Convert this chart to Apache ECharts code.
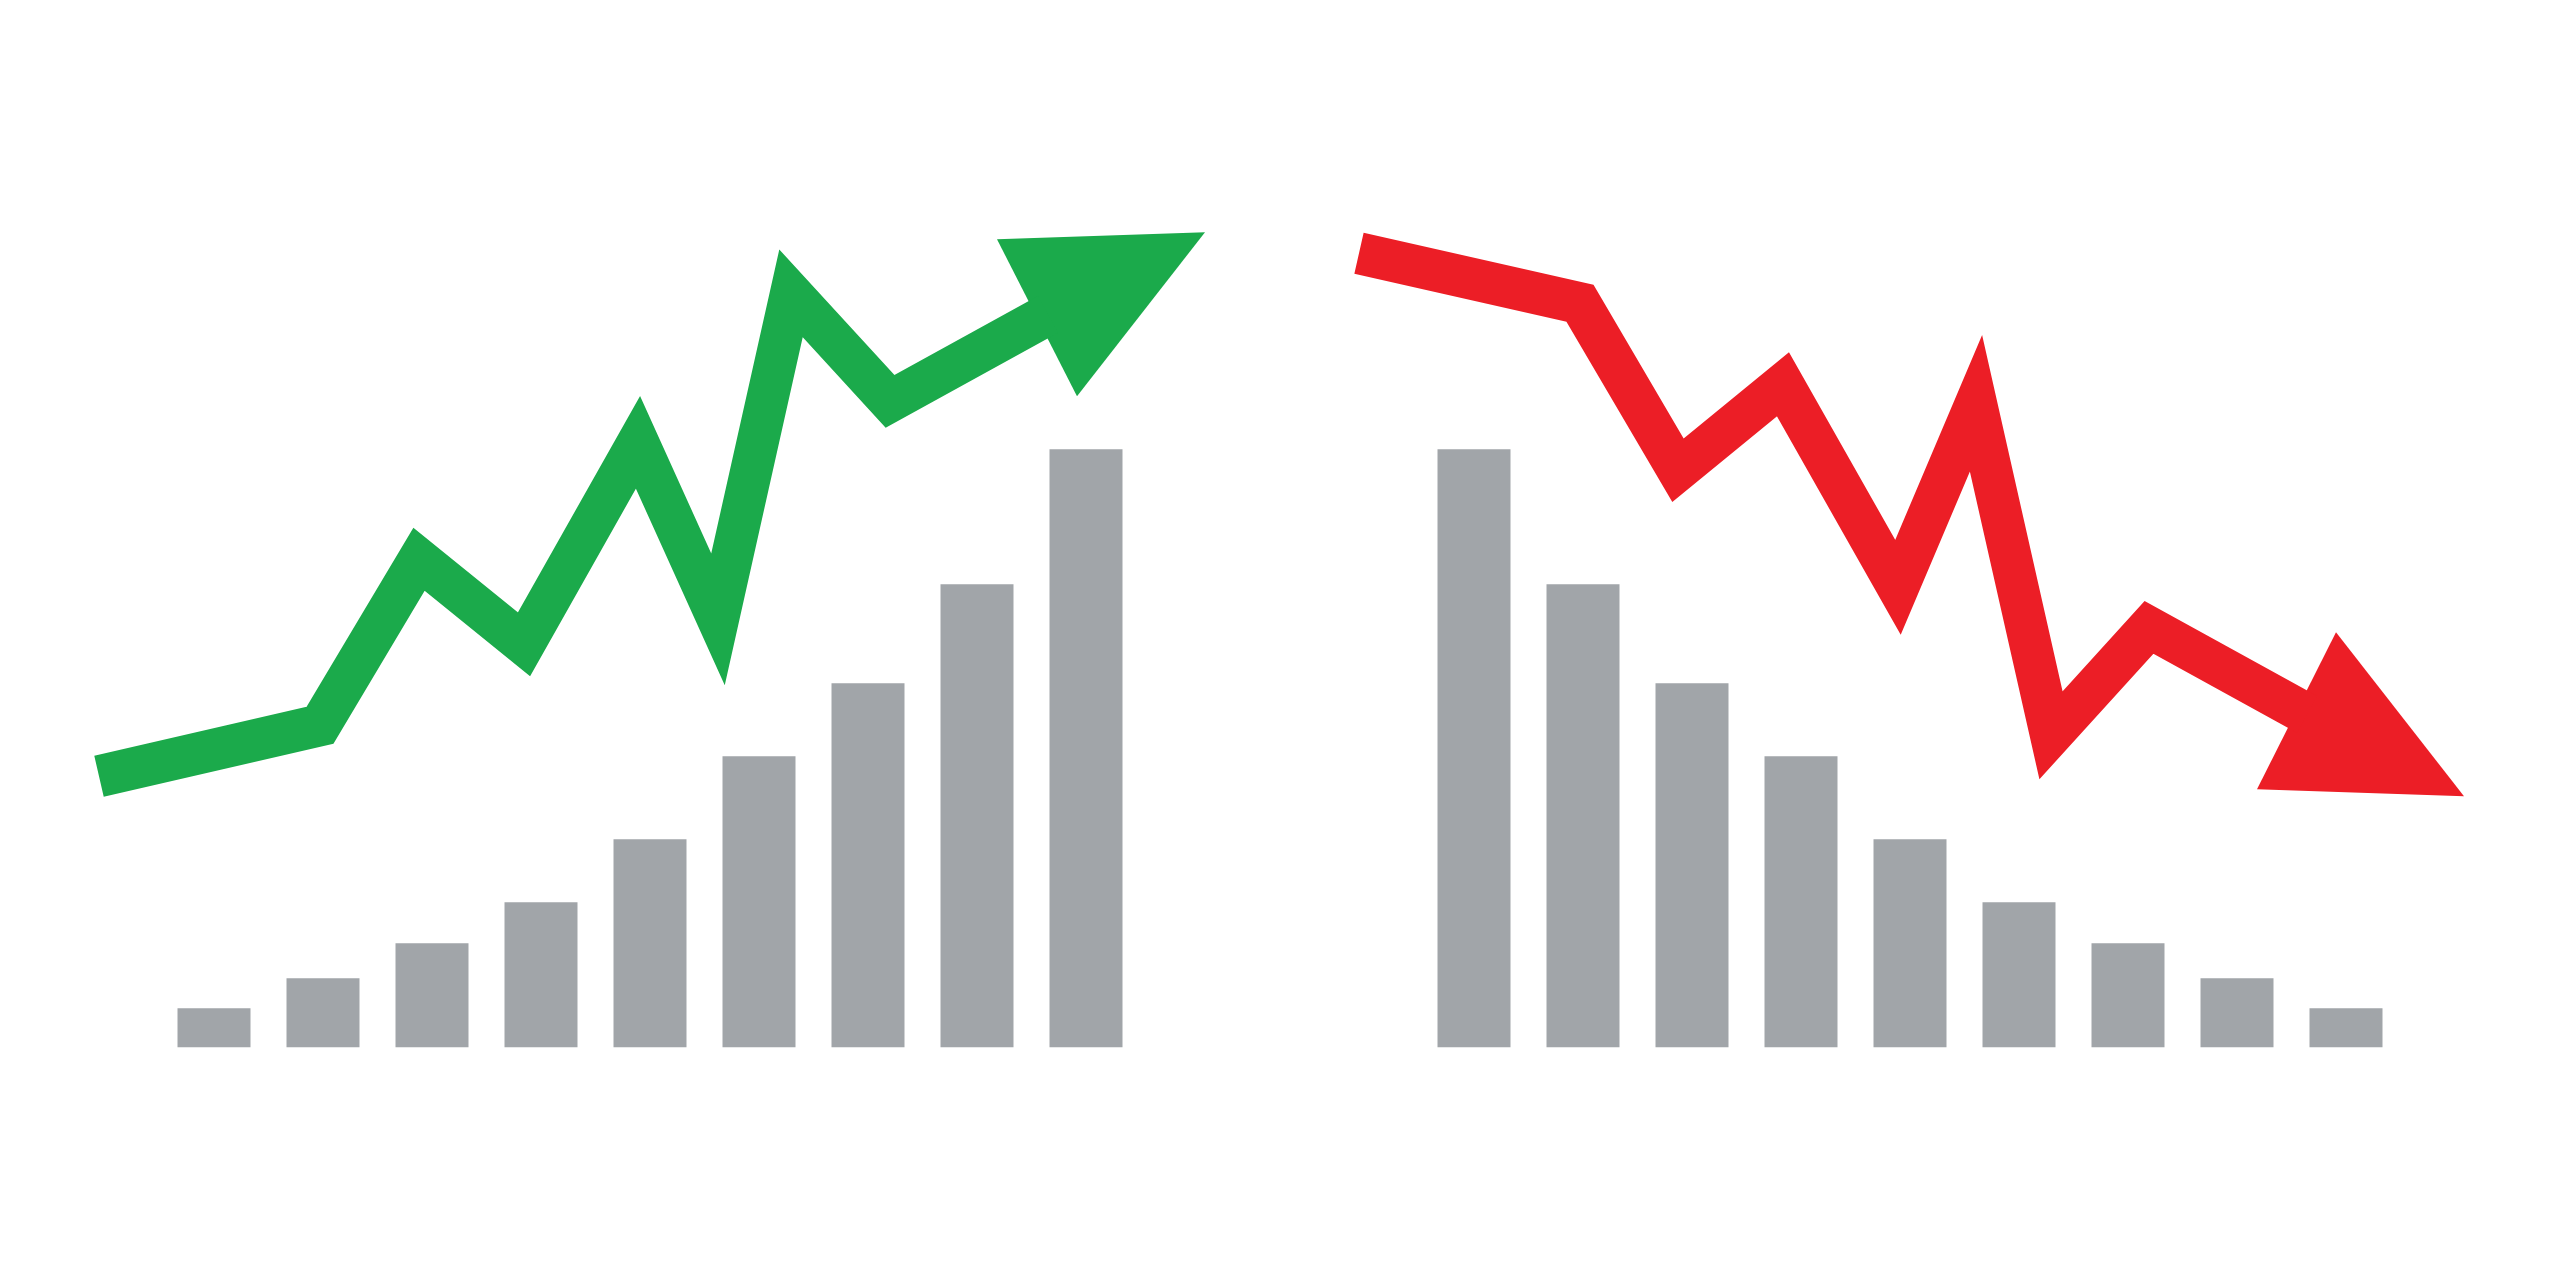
<!DOCTYPE html>
<html lang="en">
<head>
    <meta charset="UTF-8">
    <title>Rise and fall</title>
    <script src="https://cdn.jsdelivr.net/npm/echarts@6.0.0/dist/echarts.min.js"></script>
    <style>
        html, body { margin: 0; padding: 0; background: #fff; }
        #chart { width: 2560px; height: 1280px; }
    </style>
</head>
<body>
    <div id="chart"></div>

    <script>
        // bar groups (same scale as the lines, 0..1000)
        const riseCategories = ['1', '2', '3', '4', '5', '6', '7', '8', '9'];
        const riseBars = [39, 69, 104, 145, 208, 291, 364, 463, 598];
        const fallCategories = ['1', '2', '3', '4', '5', '6', '7', '8', '9'];
        const fallBars = [598, 463, 364, 291, 208, 145, 104, 69, 39];

        // zigzag lines on the overlay axes (x 0..2560, y 0..1000)
        const riseLine = [
            [99, 271], [320, 322], [419, 488], [524, 403], [638, 605],
            [718, 428], [791, 754], [890, 646], [1048, 733]
        ];
        const riseHead = [997, 808, 1205, 815, 1077, 651];
        const fallLine = [
            [1359, 794], [1580, 744], [1678, 577], [1783, 663], [1898, 460],
            [1976, 644], [2051, 312], [2149, 420], [2307, 333]
        ];
        const fallHead = [2336, 415, 2257, 258, 2464, 251];

        const GRAY = '#a1a5a9';
        const GREEN = '#1baa4b';
        const RED = '#ec1e26';

        const chart = echarts.init(document.getElementById('chart'));

        // arrowhead as a triangle through the axes
        const headItem = color => (params, api) => ({
            type: 'polygon',
            shape: {
                points: [
                    api.coord([api.value(0), api.value(1)]),
                    api.coord([api.value(2), api.value(3)]),
                    api.coord([api.value(4), api.value(5)])
                ]
            },
            style: { fill: color }
        });

        const lineStyle = color => ({
            color: color,
            width: 42,
            join: 'miter',
            miterLimit: 10,
            cap: 'butt'
        });

        chart.setOption({
            animation: false,
            backgroundColor: '#fff',
            grid: [
                { left: 159.5, width: 981, top: 47.3, bottom: 232.7 },
                { left: 1419.5, width: 981, top: 47.3, bottom: 232.7 },
                { left: 0, right: 0, top: 47.3, bottom: 232.7 }
            ],
            xAxis: [
                { type: 'category', gridIndex: 0, data: riseCategories, show: false },
                { type: 'category', gridIndex: 1, data: fallCategories, show: false },
                { type: 'value', gridIndex: 2, min: 0, max: 2560, show: false }
            ],
            yAxis: [
                { type: 'value', gridIndex: 0, min: 0, max: 1000, show: false },
                { type: 'value', gridIndex: 1, min: 0, max: 1000, show: false },
                { type: 'value', gridIndex: 2, min: 0, max: 1000, show: false }
            ],
            series: [
                {
                    type: 'bar',
                    xAxisIndex: 0, yAxisIndex: 0,
                    data: riseBars,
                    barWidth: 73,
                    itemStyle: { color: GRAY }
                },
                {
                    type: 'bar',
                    xAxisIndex: 1, yAxisIndex: 1,
                    data: fallBars,
                    barWidth: 73,
                    itemStyle: { color: GRAY }
                },
                {
                    type: 'line',
                    xAxisIndex: 2, yAxisIndex: 2,
                    data: riseLine,
                    symbol: 'none',
                    clip: false,
                    lineStyle: lineStyle(GREEN)
                },
                {
                    type: 'line',
                    xAxisIndex: 2, yAxisIndex: 2,
                    data: fallLine,
                    symbol: 'none',
                    clip: false,
                    lineStyle: lineStyle(RED)
                },
                {
                    type: 'custom',
                    xAxisIndex: 2, yAxisIndex: 2,
                    data: [riseHead],
                    clip: false,
                    renderItem: headItem(GREEN)
                },
                {
                    type: 'custom',
                    xAxisIndex: 2, yAxisIndex: 2,
                    data: [fallHead],
                    clip: false,
                    renderItem: headItem(RED)
                }
            ]
        });

        window.addEventListener('resize', () => chart.resize());
    </script>
</body>
</html>
